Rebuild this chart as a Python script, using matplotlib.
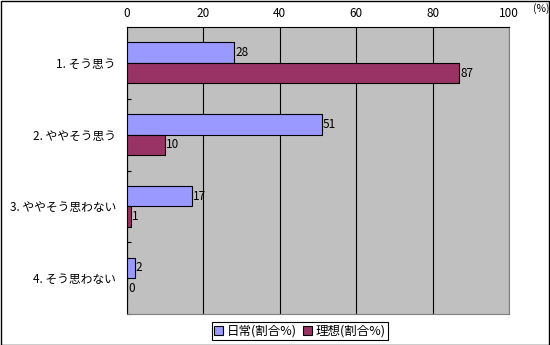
import matplotlib
matplotlib.use("Agg")
import matplotlib.pyplot as plt
import numpy as np

plt.rcParams['font.family'] = ['Noto Sans CJK JP', 'DejaVu Sans']

categories = ["1. そう思う", "2. ややそう思う", "3. ややそう思わない", "4. そう思わない"]
series_names = ["日常(割合%)", "理想(割合%)"]
daily = [28, 51, 17, 2]
ideal = [87, 10, 1, 0]
xticks = [0, 20, 40, 60, 80, 100]
colors = ["#9999FF", "#993366"]

W, H = 550, 345
fig = plt.figure(figsize=(W/100, H/100), dpi=100)
fig.patch.set_facecolor("white")
# figure border
fig.add_artist(plt.Rectangle((0.5/W, 0.5/H), 1-1.5/W, 1-1.5/H, transform=fig.transFigure,
                             fill=False, edgecolor="black", linewidth=1))

left, right, top, bottom = 127, 509, 27, 314
ax = fig.add_axes([left/W, 1-bottom/H, (right-left)/W, (bottom-top)/H])
ax.set_facecolor("#C0C0C0")

n = len(categories)
y = np.arange(n)
bh = 0.286
for i, (vals, c) in enumerate(zip([daily, ideal], colors)):
    pos = y - bh/2 + i*bh
    ax.barh(pos, vals, height=bh, color=c, edgecolor="black", linewidth=0.8,
            label=series_names[i], zorder=3)
    for p, v in zip(pos, vals):
        ax.text(v + 0.3, p, str(v), va="center", ha="left", fontsize=8.5, zorder=4)

ax.set_xlim(0, 100)
ax.set_ylim(n - 0.5, -0.5)
ax.set_xticks(xticks)
ax.xaxis.tick_top()
ax.tick_params(axis="x", length=0, labelsize=8.5, pad=5)
ax.grid(axis="x", color="black", linewidth=0.8, zorder=1)
ax.set_yticks(y)
ax.set_yticklabels(categories, fontsize=8.5)
ax.set_yticks(np.arange(n + 1) - 0.5, minor=True)
ax.tick_params(axis="y", which="major", length=0, pad=8)
ax.tick_params(axis="y", which="minor", length=3, direction="in", width=0.8)
for s in ["left", "top"]:
    ax.spines[s].set_color("black")
    ax.spines[s].set_linewidth(0.8)
for s in ["right", "bottom"]:
    ax.spines[s].set_color("#808080")
    ax.spines[s].set_linewidth(0.8)

fig.text(541/W, 1-9/H, "(%)", fontsize=7.5, ha="center", va="center")

leg = fig.legend(loc="center", bbox_to_anchor=(300/W, 1-331/H), ncol=2, fontsize=9,
                 frameon=True, fancybox=False, edgecolor="black", framealpha=1,
                 handlelength=0.7, handleheight=0.7, handletextpad=0.3, columnspacing=0.5,
                 borderpad=0.2, borderaxespad=0)
leg.get_frame().set_linewidth(0.8)

fig.savefig("out.png", dpi=100)
